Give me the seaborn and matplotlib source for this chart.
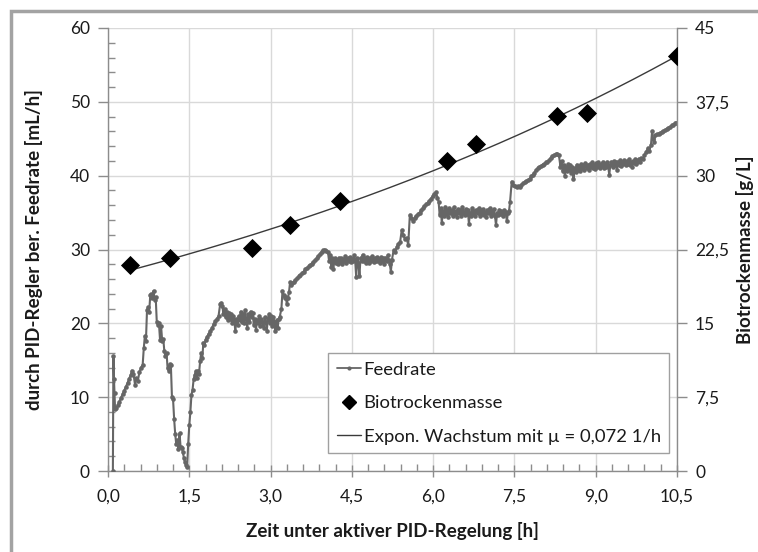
import numpy as np
import pandas as pd
import matplotlib
matplotlib.use("Agg")
import matplotlib.pyplot as plt
import seaborn as sns
from matplotlib.patches import Rectangle
from matplotlib.ticker import FixedLocator, MultipleLocator, FuncFormatter
from matplotlib.lines import Line2D

# ---------------- data ----------------
feed_t = [
    0.09, 0.10, 0.11, 0.12, 0.13, 0.15, 0.18, 0.21, 0.24, 0.27, 0.30, 0.33, 0.36, 0.39, 0.42, 0.44,
    0.47, 0.50, 0.52, 0.55, 0.58, 0.61, 0.64, 0.66, 0.68, 0.70, 0.72, 0.74, 0.76, 0.78, 0.80, 0.82,
    0.84, 0.86, 0.88, 0.90, 0.92, 0.94, 0.96, 0.98, 1.00, 1.02, 1.04, 1.06, 1.08, 1.10, 1.12, 1.14,
    1.16, 1.18, 1.20, 1.22, 1.24, 1.26, 1.28, 1.30, 1.32, 1.34, 1.36, 1.38, 1.40, 1.42, 1.44, 1.46,
    1.48, 1.50, 1.52, 1.54, 1.56, 1.58, 1.60, 1.62, 1.64, 1.66, 1.68, 1.70, 1.72, 1.74, 1.76, 1.78,
    1.80, 1.83, 1.86, 1.89, 1.92, 1.95, 1.98, 2.01, 2.04, 2.07, 2.09,
    2.11, 2.13, 2.15, 2.17, 2.19, 2.21, 2.23, 2.25, 2.27, 2.29, 2.31, 2.33, 2.35, 2.37, 2.39, 2.41,
    2.43, 2.45, 2.47, 2.49, 2.51, 2.53, 2.55, 2.57, 2.59, 2.61, 2.63, 2.65, 2.67, 2.69, 2.71, 2.73,
    2.75, 2.77, 2.79, 2.81, 2.83, 2.85, 2.87, 2.89, 2.91, 2.93, 2.95, 2.97, 2.99, 3.01, 3.03, 3.05,
    3.07, 3.09, 3.11, 3.13, 3.15, 3.17,
    3.20, 3.22, 3.24, 3.26, 3.28, 3.30, 3.32, 3.34, 3.36, 3.38, 3.40, 3.43, 3.46, 3.49, 3.52, 3.55,
    3.58, 3.61, 3.64, 3.67, 3.70, 3.73, 3.76, 3.79, 3.82, 3.85, 3.88, 3.91, 3.94, 3.97, 4.00, 4.03,
    4.06, 4.08, 4.10, 4.12, 4.14, 4.16, 4.18, 4.20,
    4.22, 4.24, 4.26, 4.28, 4.30, 4.32, 4.34, 4.36, 4.38, 4.40, 4.42, 4.44, 4.46, 4.48, 4.50, 4.52,
    4.54, 4.56, 4.58, 4.60, 4.62, 4.64, 4.66, 4.68, 4.70, 4.72, 4.74, 4.76, 4.78, 4.80, 4.82, 4.84,
    4.86, 4.88, 4.90, 4.92, 4.94, 4.96, 4.98, 5.00, 5.02, 5.04, 5.06, 5.08, 5.10, 5.12, 5.14, 5.16,
    5.18, 5.20, 5.22, 5.24,
    5.27, 5.30, 5.33, 5.36, 5.39, 5.42, 5.45, 5.48, 5.51, 5.54, 5.57, 5.60, 5.63, 5.66, 5.69, 5.72,
    5.75, 5.78, 5.81, 5.84, 5.87, 5.90, 5.93, 5.96, 5.99, 6.02, 6.05, 6.08,
    6.10, 6.12, 6.14, 6.16, 6.18, 6.20, 6.22, 6.24, 6.26, 6.28, 6.30, 6.32, 6.34, 6.36, 6.38, 6.40,
    6.42, 6.44, 6.46, 6.48, 6.50, 6.52, 6.54, 6.56, 6.58, 6.60, 6.62, 6.64, 6.66, 6.68, 6.70, 6.72,
    6.74, 6.76, 6.78, 6.80, 6.82, 6.84, 6.86, 6.88, 6.90, 6.92, 6.94, 6.96, 6.98, 7.00, 7.02, 7.04,
    7.06, 7.08, 7.10, 7.12, 7.14, 7.16, 7.18, 7.20, 7.22, 7.24, 7.26, 7.28, 7.30, 7.32, 7.34, 7.36,
    7.38, 7.40,
    7.42, 7.45, 7.48, 7.51, 7.54, 7.57, 7.60, 7.63, 7.66, 7.69, 7.72, 7.75, 7.78, 7.81, 7.84, 7.87,
    7.90, 7.93, 7.96, 7.99, 8.02, 8.05, 8.08, 8.11, 8.14, 8.17, 8.20, 8.23, 8.26, 8.29, 8.32, 8.35,
    8.37, 8.39, 8.41, 8.43, 8.45, 8.47, 8.49, 8.51, 8.53, 8.55, 8.57, 8.59, 8.61, 8.63, 8.65, 8.67,
    8.69, 8.71, 8.73, 8.75, 8.77, 8.79, 8.81, 8.83, 8.85, 8.87, 8.89, 8.91, 8.93, 8.95, 8.97, 8.99,
    9.01, 9.03, 9.05, 9.07, 9.09, 9.11, 9.13, 9.15, 9.17, 9.19, 9.21, 9.23, 9.25, 9.27, 9.29, 9.31,
    9.33, 9.35, 9.37, 9.39, 9.41, 9.43, 9.45, 9.47, 9.49, 9.51, 9.53, 9.55, 9.57, 9.59, 9.61, 9.63,
    9.65, 9.67, 9.69, 9.71, 9.73, 9.75, 9.77, 9.79,
    9.81, 9.84, 9.87, 9.90, 9.93, 9.96, 9.99, 10.02, 10.04, 10.06, 10.08, 10.10, 10.13, 10.16, 10.19,
    10.22, 10.25, 10.28, 10.31, 10.34, 10.37, 10.40, 10.43, 10.46, 10.49,
]
feed_v = [
    0.0, 15.6, 12.4, 10.6, 8.4, 8.5, 8.9, 9.4, 9.9, 10.4, 10.9, 11.4, 11.9, 12.5, 13.0, 13.6,
    13.2, 11.6, 12.6, 12.2, 13.4, 14.0, 14.4, 16.6, 18.3, 17.6, 21.8, 22.2, 21.6, 23.8, 24.0, 23.4,
    24.4, 23.2, 23.6, 20.2, 19.8, 20.0, 17.8, 19.6, 17.6, 17.9, 16.2, 15.6, 16.0, 13.9, 13.6, 14.5,
    14.4, 10.0, 9.8, 7.1, 5.0, 3.6, 4.2, 3.0, 5.1, 3.2, 3.1, 2.6, 1.8, 1.2, 0.8, 0.5,
    3.7, 6.2, 8.0, 10.3, 11.0, 12.4, 13.0, 13.5, 12.6, 13.6, 13.2, 14.9, 16.0, 15.3, 17.4, 17.0,
    17.8, 18.2, 18.6, 19.0, 19.4, 19.9, 20.3, 20.6, 21.0, 22.6, 22.8,
    22.4, 21.2, 22.0, 20.8, 21.6, 20.4, 21.4, 20.6, 21.2, 20.0, 21.0, 20.5, 18.9, 20.6, 19.8, 21.0,
    20.4, 21.6, 20.2, 21.2, 20.0, 21.8, 20.6, 19.4, 21.2, 20.2, 21.6, 20.8, 21.4, 19.8, 20.6, 19.1,
    20.4, 20.0, 21.0, 19.6, 20.6, 20.2, 19.4, 20.8, 20.2, 19.0, 20.6, 21.2, 20.0, 21.0, 19.6, 20.8,
    20.2, 18.9, 20.4, 19.4, 20.6, 20.9,
    22.0, 24.4, 23.8, 23.4, 23.6, 22.6, 23.4, 24.2, 25.6, 25.2, 25.4, 25.6, 25.9, 26.1, 26.4, 26.6,
    26.8, 27.0, 27.3, 27.5, 27.7, 27.9, 28.1, 28.3, 28.6, 28.8, 29.1, 29.4, 29.7, 29.9, 30.0, 29.8,
    29.6, 28.4, 29.2, 27.6, 28.8, 27.4, 28.8, 28.2,
    28.6, 28.0, 28.9, 28.3, 28.8, 28.1, 28.7, 28.4, 29.1, 28.2, 28.8, 28.5, 29.0, 28.3, 28.7, 28.4,
    29.2, 28.6, 26.3, 28.8, 28.2, 26.4, 28.9, 28.5, 29.3, 28.4, 28.8, 28.2, 29.0, 28.6, 28.2, 28.9,
    28.4, 29.1, 28.3, 28.8, 28.5, 29.0, 28.4, 28.7, 28.2, 29.0, 28.5, 28.8, 28.1, 28.9, 28.4, 29.2,
    28.6, 28.0, 27.0, 28.6,
    29.9, 29.6, 30.4, 30.8, 31.0, 32.6, 32.0, 31.4, 31.6, 30.6, 34.7, 34.2, 33.9, 34.3, 34.6, 34.8,
    35.0, 35.3, 35.6, 35.9, 36.1, 36.3, 36.6, 36.9, 37.2, 37.5, 37.8, 37.0,
    36.5, 34.7, 35.6, 33.6, 35.2, 34.6, 35.8, 34.8, 35.4, 34.4, 35.6, 34.9, 35.3, 34.5, 35.7, 34.8,
    35.2, 34.4, 35.5, 34.9, 35.4, 34.6, 35.8, 35.0, 34.7, 35.5, 34.8, 35.3, 33.5, 35.0, 34.6, 35.6,
    34.8, 35.2, 34.5, 35.4, 34.9, 35.6, 34.6, 35.3, 34.8, 35.5, 34.7, 35.1, 34.4, 35.4, 34.9, 35.6,
    34.6, 35.2, 34.8, 35.5, 34.6, 33.3, 35.0, 34.7, 35.4, 34.8, 35.2, 34.5, 35.3, 34.9, 35.1, 33.8,
    35.0, 35.2,
    36.5, 39.2, 38.8, 38.6, 38.4, 38.6, 38.5, 38.8, 39.0, 39.1, 39.3, 39.4, 39.6, 39.9, 40.1, 40.4,
    40.8, 41.0, 41.2, 41.3, 41.5, 41.6, 41.8, 41.9, 42.1, 42.4, 42.6, 42.8, 42.9, 43.0, 42.8, 41.2,
    42.0, 40.6, 41.5, 39.9, 41.2, 40.6, 41.6, 40.8, 41.4, 40.4, 41.2, 39.6, 41.0, 40.5, 41.5, 40.8,
    41.3, 40.6, 41.6, 41.0, 41.4, 40.7, 41.7, 41.1, 41.5, 40.8, 41.6, 41.2, 41.8, 41.0, 41.5, 40.9,
    41.7, 41.2, 41.8, 41.0, 41.6, 41.3, 41.9, 41.1, 41.6, 41.2, 41.9, 41.3, 40.1, 41.5, 41.9, 41.2,
    42.0, 41.4, 41.8, 40.8, 41.9, 41.5, 42.1, 41.3, 41.9, 41.6, 42.1, 41.4, 42.0, 41.6, 42.2, 41.5,
    41.9, 41.2, 42.0, 41.7, 42.2, 41.6, 41.9, 42.3,
    41.8, 42.4, 42.2, 42.8, 43.2, 43.7, 43.4, 44.2, 46.0, 45.0, 44.6, 45.5, 45.6, 45.7, 45.8,
    45.9, 46.0, 46.2, 46.3, 46.5, 46.6, 46.8, 46.9, 47.1, 47.2,
]

btm_t = [0.40, 1.15, 2.65, 3.35, 4.28, 6.26, 6.79, 8.29, 8.83, 10.50]
btm_v = [20.9, 21.6, 22.7, 25.0, 27.4, 31.5, 33.2, 36.1, 36.4, 42.2]

# exponential growth model X(t) = X0 * exp(mu * t)
mu = 0.072
X0 = 19.8
fit_t_start, fit_t_end = 0.42, 10.5

x_ticks = [0.0, 1.5, 3.0, 4.5, 6.0, 7.5, 9.0, 10.5]
y_left_ticks = [0, 10, 20, 30, 40, 50, 60]
y_right_ticks = [0, 7.5, 15, 22.5, 30, 37.5, 45]

label_x = "Zeit unter aktiver PID-Regelung [h]"
label_yl = "durch PID-Regler ber. Feedrate [mL/h]"
label_yr = "Biotrockenmasse [g/L]"
leg_labels = ["Feedrate", "Biotrockenmasse", "Expon. Wachstum mit \u00b5 = 0,072 1/h"]

feed_df = pd.DataFrame({"t": feed_t, "v": feed_v})
btm_df = pd.DataFrame({"t": btm_t, "v": btm_v})
fit_t = np.linspace(fit_t_start, fit_t_end, 200)
fit_df = pd.DataFrame({"t": fit_t, "v": X0 * np.exp(mu * fit_t)})

# ---------------- style ----------------
sns.set_theme(style="white")
plt.rcParams["font.family"] = ["Lato", "DejaVu Sans"]

feed_color = "#666666"
grid_color = "#d9d9d9"
spine_color = "#8c8c8c"
text_color = "#1a1a1a"

fig = plt.figure(figsize=(7.58, 5.52), dpi=100)
ax = fig.add_axes([108 / 758, 1 - 471 / 552, (677 - 108) / 758, (471 - 28) / 552])
ax2 = ax.twinx()

sns.lineplot(data=feed_df, x="t", y="v", ax=ax, color=feed_color, lw=1.5,
             marker="o", markersize=3.3, markeredgewidth=0, estimator=None, sort=False,
             zorder=3)

sns.lineplot(data=fit_df, x="t", y="v", ax=ax2, color="#3a3a3a", lw=1.0,
             estimator=None, sort=False, zorder=3)
sns.scatterplot(data=btm_df, x="t", y="v", ax=ax2, color="black", marker="D", s=95,
                edgecolor="black", linewidth=0, zorder=4)

ax.set_xlim(0, 10.5)
ax.set_ylim(0, 60)
ax2.set_ylim(0, 45)

comma = FuncFormatter(lambda v, p: (f"{v:.1f}").replace(".", ","))
ax.xaxis.set_major_locator(FixedLocator(x_ticks))
ax.xaxis.set_major_formatter(comma)
ax.xaxis.set_minor_locator(MultipleLocator(0.3))
ax.yaxis.set_major_locator(FixedLocator(y_left_ticks))
ax.yaxis.set_major_formatter(FuncFormatter(lambda v, p: f"{v:.0f}"))
ax.yaxis.set_minor_locator(MultipleLocator(2))
ax2.yaxis.set_major_locator(FixedLocator(y_right_ticks))
ax2.yaxis.set_major_formatter(FuncFormatter(
    lambda v, p: (f"{v:g}").replace(".", ",")))

ax.grid(True, which="major", color=grid_color, lw=1.0, zorder=0)
ax.set_axisbelow(True)
ax2.grid(False)

for a in (ax, ax2):
    a.spines["top"].set_visible(False)
    for s in ("left", "bottom", "right"):
        a.spines[s].set_color(spine_color)
        a.spines[s].set_linewidth(1.0)
ax.spines["right"].set_visible(False)
ax2.spines["left"].set_visible(False)
ax2.spines["bottom"].set_visible(False)

tick_fs = 12.5
ax.tick_params(axis="x", which="major", direction="inout", length=9, width=1,
               color=spine_color, labelsize=tick_fs, pad=8, labelcolor=text_color, bottom=True)
ax.tick_params(axis="x", which="minor", direction="in", length=5, width=1,
               color=spine_color, bottom=True)
ax.tick_params(axis="y", which="major", direction="out", length=7, width=1,
               color=spine_color, labelsize=tick_fs, pad=6, labelcolor=text_color, left=True)
ax.tick_params(axis="y", which="minor", direction="in", length=5, width=1,
               color=spine_color, left=True)
ax2.tick_params(axis="y", which="major", direction="out", length=7, width=1,
                color=spine_color, labelsize=tick_fs, pad=6, labelcolor=text_color, right=True)
ax2.tick_params(axis="y", which="minor", right=False)

lab_fs = 13.5
ax.set_xlabel(label_x, fontsize=lab_fs, fontweight="bold", labelpad=13, color=text_color)
ax.set_ylabel(label_yl, fontsize=lab_fs, fontweight="bold", labelpad=19, color=text_color)
ax2.set_ylabel(label_yr, fontsize=lab_fs, fontweight="bold", labelpad=5, color=text_color,
               rotation=90)

handles = [
    Line2D([], [], color=feed_color, lw=1.3, marker="o", markersize=3.0, markeredgewidth=0),
    Line2D([], [], color="black", lw=0, marker="D", markersize=7.5),
    Line2D([], [], color="#3a3a3a", lw=1.0),
]
leg = ax2.legend(handles, leg_labels, loc="lower right",
                 bbox_to_anchor=((669 - 108) / 569, (471 - 453) / 443),
                 frameon=True, fancybox=False, edgecolor="#a0a0a0", framealpha=1,
                 fontsize=13.3, labelspacing=0.95, handlelength=1.3, handletextpad=0.15,
                 borderpad=0.45, borderaxespad=0)
leg.get_frame().set_linewidth(1.0)
for tx in leg.get_texts():
    tx.set_color(text_color)

# outer frame (cropped border)
fig.patches.append(Rectangle((11 / 758, -0.1), 1.2, 1 - 11 / 552 + 0.1,
                             transform=fig.transFigure, fill=False,
                             edgecolor="#a3a3a3", lw=2.5, zorder=0))

fig.savefig("out.png", dpi=100)
